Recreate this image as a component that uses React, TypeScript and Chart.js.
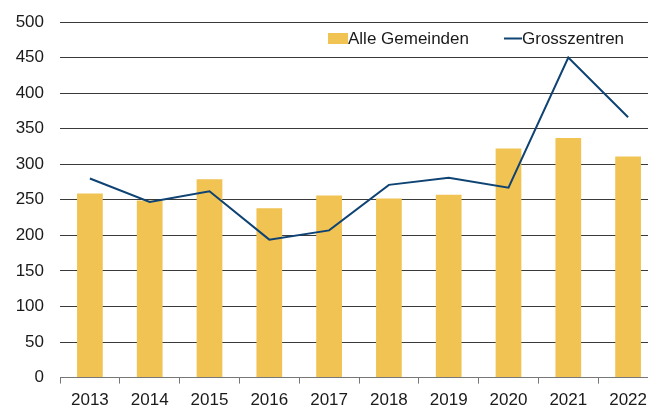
import React, { useEffect, useRef } from "react";
import { Chart, registerables } from "chart.js";

Chart.register(...registerables);

const years = ["2013", "2014", "2015", "2016", "2017", "2018", "2019", "2020", "2021", "2022"];
const alleGemeinden = [259, 249, 279, 238, 256, 252, 257, 322, 337, 311];
const grosszentren = [280, 247, 262, 194, 207, 271, 281, 267, 450, 366];
const yTicks = [0, 50, 100, 150, 200, 250, 300, 350, 400, 450, 500];

const BAR_COLOR = "#F0C352";
const LINE_COLOR = "#0E4373";
const FONT = "'Liberation Sans', Arial, Helvetica, sans-serif";

const legendPlugin = {
  id: "customLegend",
  afterDraw(chart: any) {
    const ctx = chart.ctx;
    ctx.save();
    ctx.font = `17px ${FONT}`;
    ctx.textBaseline = "middle";
    ctx.textAlign = "left";
    const y = 39.5;
    ctx.fillStyle = BAR_COLOR;
    ctx.fillRect(328, 33, 20, 11);
    ctx.fillStyle = "#1a1a1a";
    ctx.fillText("Alle Gemeinden", 348, y);
    ctx.strokeStyle = LINE_COLOR;
    ctx.lineWidth = 2;
    ctx.beginPath();
    ctx.moveTo(504, 38.5);
    ctx.lineTo(522, 38.5);
    ctx.stroke();
    ctx.fillText("Grosszentren", 522, y);
    ctx.restore();
  },
};

export default function App() {
  const ref = useRef<HTMLCanvasElement | null>(null);

  useEffect(() => {
    if (!ref.current) return;
    const chart = new Chart(ref.current, {
      type: "bar",
      data: {
        labels: years,
        datasets: [
          {
            type: "line",
            label: "Grosszentren",
            data: grosszentren,
            borderColor: LINE_COLOR,
            backgroundColor: LINE_COLOR,
            borderWidth: 2,
            pointRadius: 0,
            tension: 0,
            order: 0,
          } as any,
          {
            type: "bar",
            label: "Alle Gemeinden",
            data: alleGemeinden,
            backgroundColor: BAR_COLOR,
            borderWidth: 0,
            categoryPercentage: 1,
            barPercentage: 0.43,
            order: 1,
          },
        ],
      },
      options: {
        responsive: false,
        animation: false,
        devicePixelRatio: 1,
        layout: { padding: { left: 15, top: 22, right: 0, bottom: 0 } },
        plugins: {
          legend: { display: false },
          tooltip: { enabled: false },
        },
        scales: {
          x: {
            grid: {
              display: true,
              drawOnChartArea: false,
              drawTicks: true,
              tickLength: 6,
              color: "#777",
              offset: true,
            },
            border: { display: true, color: "#777", width: 1 },
            ticks: {
              font: { family: FONT, size: 17 },
              color: "#1a1a1a",
              padding: 7,
              maxRotation: 0,
              autoSkip: false,
            },
          },
          y: {
            min: 0,
            max: 500,
            afterBuildTicks: (scale: any) => {
              scale.ticks = yTicks.map((v) => ({ value: v }));
            },
            afterFit: (scale: any) => {
              scale.width = 45;
              scale.paddingTop = 0;
              scale.paddingBottom = 0;
            },
            grid: {
              color: "#3a3a3a",
              lineWidth: 1,
              drawTicks: false,
            },
            border: { display: false },
            ticks: {
              font: { family: FONT, size: 17 },
              color: "#1a1a1a",
              padding: 16,
            },
          },
        },
      },
      plugins: [legendPlugin],
    });
    return () => chart.destroy();
  }, []);

  return (
    <div
      style={{
        position: "fixed",
        left: 0,
        top: 0,
        width: 648,
        height: 405,
        overflow: "hidden",
        background: "#fff",
      }}
    >
      <canvas ref={ref} width={658} height={418} />
    </div>
  );
}
